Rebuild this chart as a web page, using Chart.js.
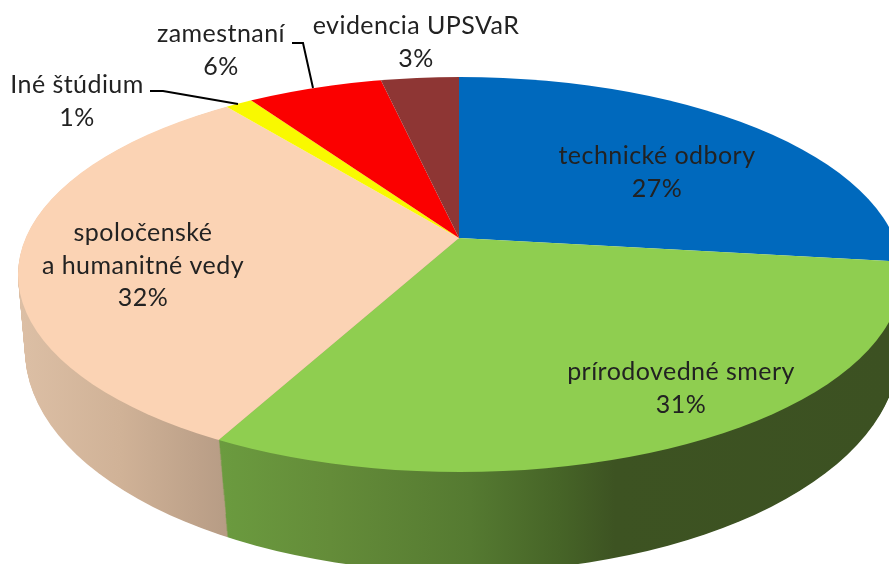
<!DOCTYPE html>
<html lang="sk">
<head>
<meta charset="utf-8">
<title>Graf</title>
<script src="https://cdn.jsdelivr.net/npm/chart.js@4"></script>
<style>
  html, body { margin: 0; padding: 0; background: #fff; overflow: hidden; }
  canvas { display: block; }
</style>
</head>
<body>
<canvas id="myChart" width="889" height="564"></canvas>
<script>
const categories = ["technické odbory", "prírodovedné smery", "spoločenské\na humanitné vedy", "Iné štúdium", "zamestnaní", "evidencia UPSVaR"];
const shares = [26.9, 30.7, 31.8, 1.2, 5.9, 3.4];
const percentLabels = shares.map((v) => Math.round(v) + "%");
const colors = ["#0069bd", "#8fce50", "#fbd3b4", "#f9f900", "#fb0000", "#8e3634"];

// top face and bottom edge of the tilted pie
const top3d = { apexX: 459, apexY: 238, cx: 460, cy: 274.5, a: 442, b: 197.5 };
const bottom3d = { apexX: 462, apexY: 340, cx: 462, cy: 350, a: 437, b: 222 };
const tilt = 0.4386;
const wallSteps = 100;

// text anchors [x of the block centre, y of first line]
const labelAnchors = [[657, 156], [681, 372], [143, 233], [77, 85], [221, 34], [416, 26]];
const lineGap = 32.5;
const leaders = [
  [[150, 91], [163, 91], [238, 104]],
  [[292, 43], [303, 43], [313, 88]],
];

function drawSlice(ctx, arc, layer, fill) {
  const s = layer.a / top3d.a;
  ctx.save();
  ctx.translate(layer.apexX, layer.apexY);
  ctx.scale(s, s * tilt);
  ctx.translate(-arc.x, -arc.y);
  if (fill) {
    const saved = arc.options;
    arc.options = Object.assign({}, saved, { backgroundColor: fill(ctx, arc, layer, s) });
    arc.draw(ctx);
    arc.options = saved;
  } else {
    arc.draw(ctx);
  }
  ctx.restore();
}

function clipEllipse(ctx, e) {
  ctx.beginPath();
  ctx.ellipse(e.cx, e.cy, e.a, e.b, 0, 0, Math.PI * 2);
  ctx.clip();
}

// horizontal wall shading, stops are given in page x
function wallFill(stops) {
  return (ctx, arc, layer, s) => {
    const toLocal = (x) => (x - layer.apexX) / s + arc.x;
    const x0 = stops[0][0];
    const x1 = stops[stops.length - 1][0];
    const g = ctx.createLinearGradient(toLocal(x0), 0, toLocal(x1), 0);
    stops.forEach(([x, c]) => g.addColorStop((x - x0) / (x1 - x0), c));
    return g;
  };
}

const greenWall = wallFill([[220, "#6b9b3f"], [330, "#648c39"], [470, "#557a31"], [560, "#466427"], [615, "#3d5322"], [889, "#3c5122"]]);
const peachWall = wallFill([[20, "#dcbfa5"], [120, "#d0b297"], [226, "#b79c85"]]);

const pie3d = {
  id: "pie3d",
  beforeDatasetsDraw(chart) {
    const ctx = chart.ctx;
    const arcs = chart.getDatasetMeta(0).data;

    // side wall, stacked from the bottom edge up to the top face
    for (let i = wallSteps; i >= 1; i--) {
      const t = i / wallSteps;
      const layer = {};
      Object.keys(top3d).forEach((k) => { layer[k] = top3d[k] + (bottom3d[k] - top3d[k]) * t; });
      ctx.save();
      clipEllipse(ctx, layer);
      drawSlice(ctx, arcs[2], layer, peachWall);
      drawSlice(ctx, arcs[1], layer, greenWall);
      ctx.restore();
    }

    ctx.save();
    clipEllipse(ctx, top3d);
    arcs.forEach((arc) => drawSlice(ctx, arc, top3d));
    ctx.restore();
    return false;
  },
  afterDraw(chart) {
    const ctx = chart.ctx;
    ctx.save();
    ctx.strokeStyle = "#000";
    ctx.lineWidth = 2;
    leaders.forEach((pts) => {
      ctx.beginPath();
      pts.forEach(([x, y], i) => (i ? ctx.lineTo(x, y) : ctx.moveTo(x, y)));
      ctx.stroke();
    });
    ctx.fillStyle = "#222";
    ctx.font = '25px Lato, "Open Sans", sans-serif';
    ctx.letterSpacing = "0.45px";
    ctx.textAlign = "center";
    ctx.textBaseline = "middle";
    categories.forEach((name, i) => {
      const lines = name.split("\n").concat(percentLabels[i]);
      lines.forEach((line, j) => {
        ctx.fillText(line, labelAnchors[i][0], labelAnchors[i][1] + j * lineGap);
      });
    });
    ctx.restore();
  },
};

new Chart(document.getElementById("myChart"), {
  type: "pie",
  data: {
    labels: categories,
    datasets: [{ data: shares, backgroundColor: colors, borderWidth: 0, hoverOffset: 0 }],
  },
  options: {
    responsive: false,
    animation: false,
    radius: 560,
    events: [],
    plugins: {
      legend: { display: false },
      tooltip: { enabled: false },
    },
  },
  plugins: [pie3d],
});
</script>
</body>
</html>
